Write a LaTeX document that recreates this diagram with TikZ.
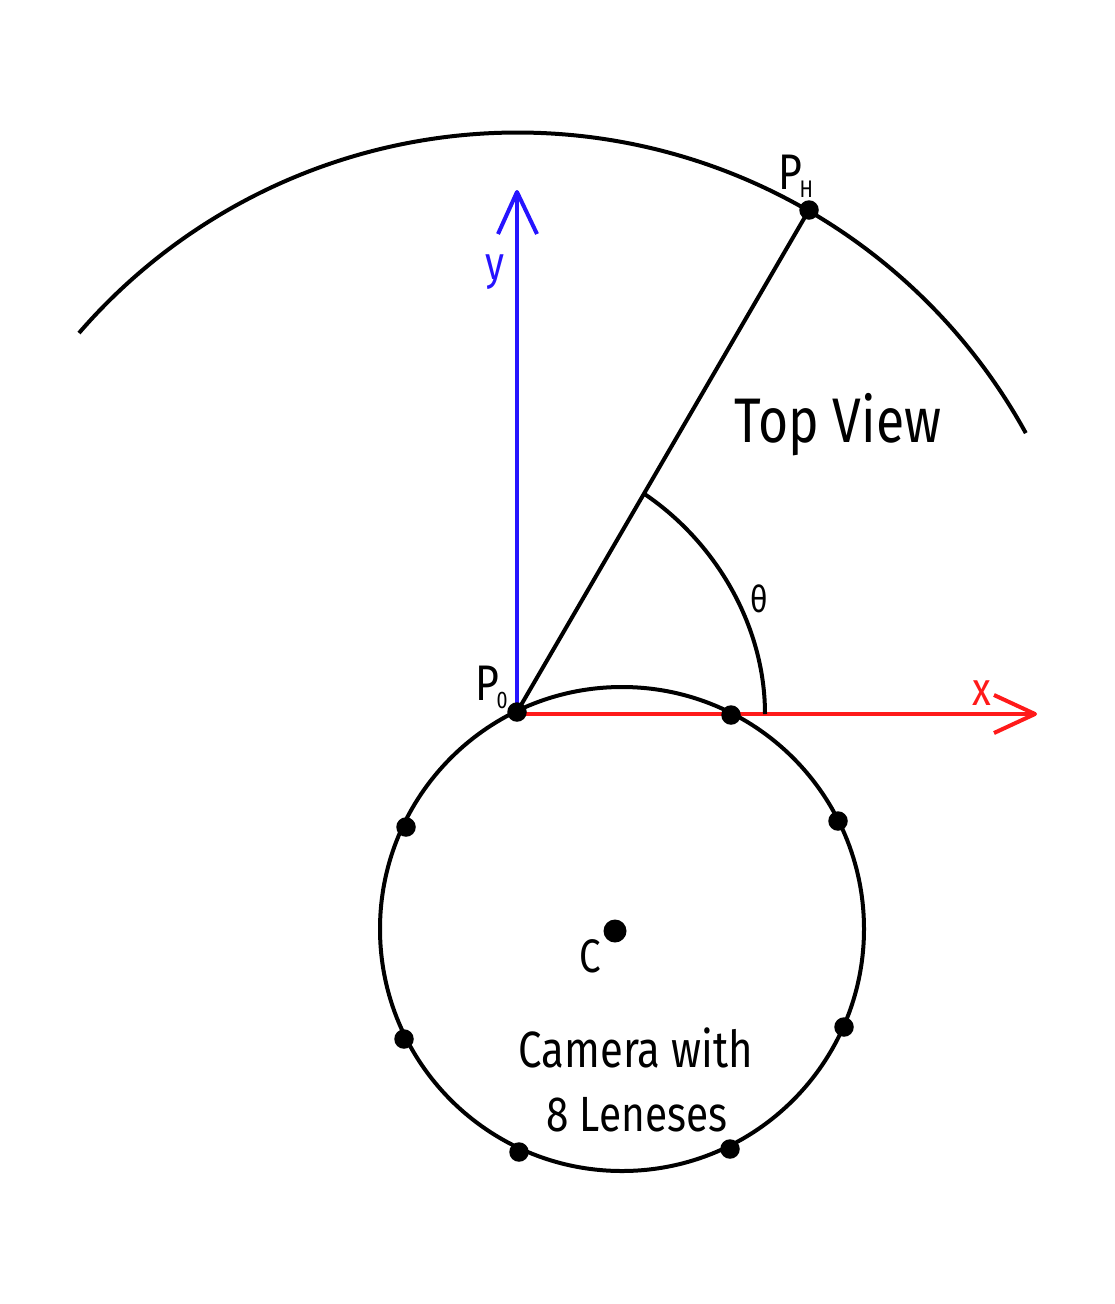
\documentclass[tikz,border=0pt]{standalone}
\usepackage{fontspec}
\setmainfont[FakeStretch=0.82]{Fira Sans}
\definecolor{xred}{RGB}{255,26,26}
\definecolor{yblue}{RGB}{38,20,255}
\tikzset{
  curve/.style={line width=4pt,black},
  lens/.style={circle,fill=black,inner sep=0pt,minimum size=19.5pt},
  lbl/.style={inner sep=0pt,text=black,anchor=base},
  axis/.style={line width=4pt,line join=round},
}
\newcommand{\PSub}[1]{P\kern-2.5pt\raisebox{-8pt}{\fontsize{24}{24}\selectfont #1}}
\begin{document}
\begin{tikzpicture}[x=1pt,y=-1pt]
\useasboundingbox (0,0) rectangle (1115,1304);
\coordinate (O) at (517,712);
\coordinate (Ox) at (517,714);
\coordinate (C0) at (622,929);
\coordinate (yEnd) at (517,192);
\coordinate (xEnd) at (1035,714);
\coordinate (arcA) at (79,333);
\coordinate (thA) at (643,493);
\coordinate (thB) at (765,714);
% axes
\draw[axis,yblue] (O) -- (yEnd);
\draw[axis,yblue] (498,234) -- (yEnd) -- (537,234);
\draw[axis,xred] (Ox) -- (xEnd);
\draw[axis,xred] (994,695) -- (xEnd) -- (994,733);
% curves
\draw[curve] (C0) circle[radius=242];
\draw[curve] (arcA) arc[start angle=220.87,end angle=331.2,radius=580];
\node[lens] (PH) at (809,210) {};
\node[lens] (P0) at (517,712) {};
\draw[curve] (P0.center) -- (PH.center);
\draw[curve] (thA) .. controls (715,541) and (765,625) .. (thB);
\node[lens] (L1) at (731,715) {};
\node[lens] (L2) at (838,821) {};
\node[lens] (L3) at (844,1027) {};
\node[lens] (L4) at (730,1149) {};
\node[lens] (L5) at (519,1152) {};
\node[lens] (L6) at (404,1039) {};
\node[lens] (L7) at (406,827) {};
\node[circle,fill=black,inner sep=0pt,minimum width=23pt,minimum height=21pt] (Cdot) at (615,931) {};
% labels
\node[lbl,anchor=base west,font=\fontsize{50}{50}\selectfont] (PHl) at (778,189) {\PSub{H}};
\node[lbl,anchor=base west,font=\fontsize{50}{50}\selectfont] (P0l) at (475,700) {\PSub{0}};
\node[lbl,text=yblue,font=\fontsize{47}{47}\selectfont] (yl) at (495,279) {y};
\node[lbl,text=xred,font=\fontsize{47}{47}\selectfont] (xl) at (982,705) {x};
\node[lbl,font=\fontsize{63}{63}\selectfont] (tv) at (838,442) {Top View};
\node[lbl,font=\fontsize{37}{37}\selectfont] (th) at (759,612) {θ};
\node[lbl,font=\fontsize{47}{47}\selectfont] (cl) at (590,972) {C};
\node[lbl,font=\fontsize{51}{51}\selectfont] (c1) at (636,1067) {Camera with};
\node[lbl,font=\fontsize{49.5}{49.5}\selectfont] (c2) at (637,1131) {8 Leneses};
\end{tikzpicture}
\end{document}
